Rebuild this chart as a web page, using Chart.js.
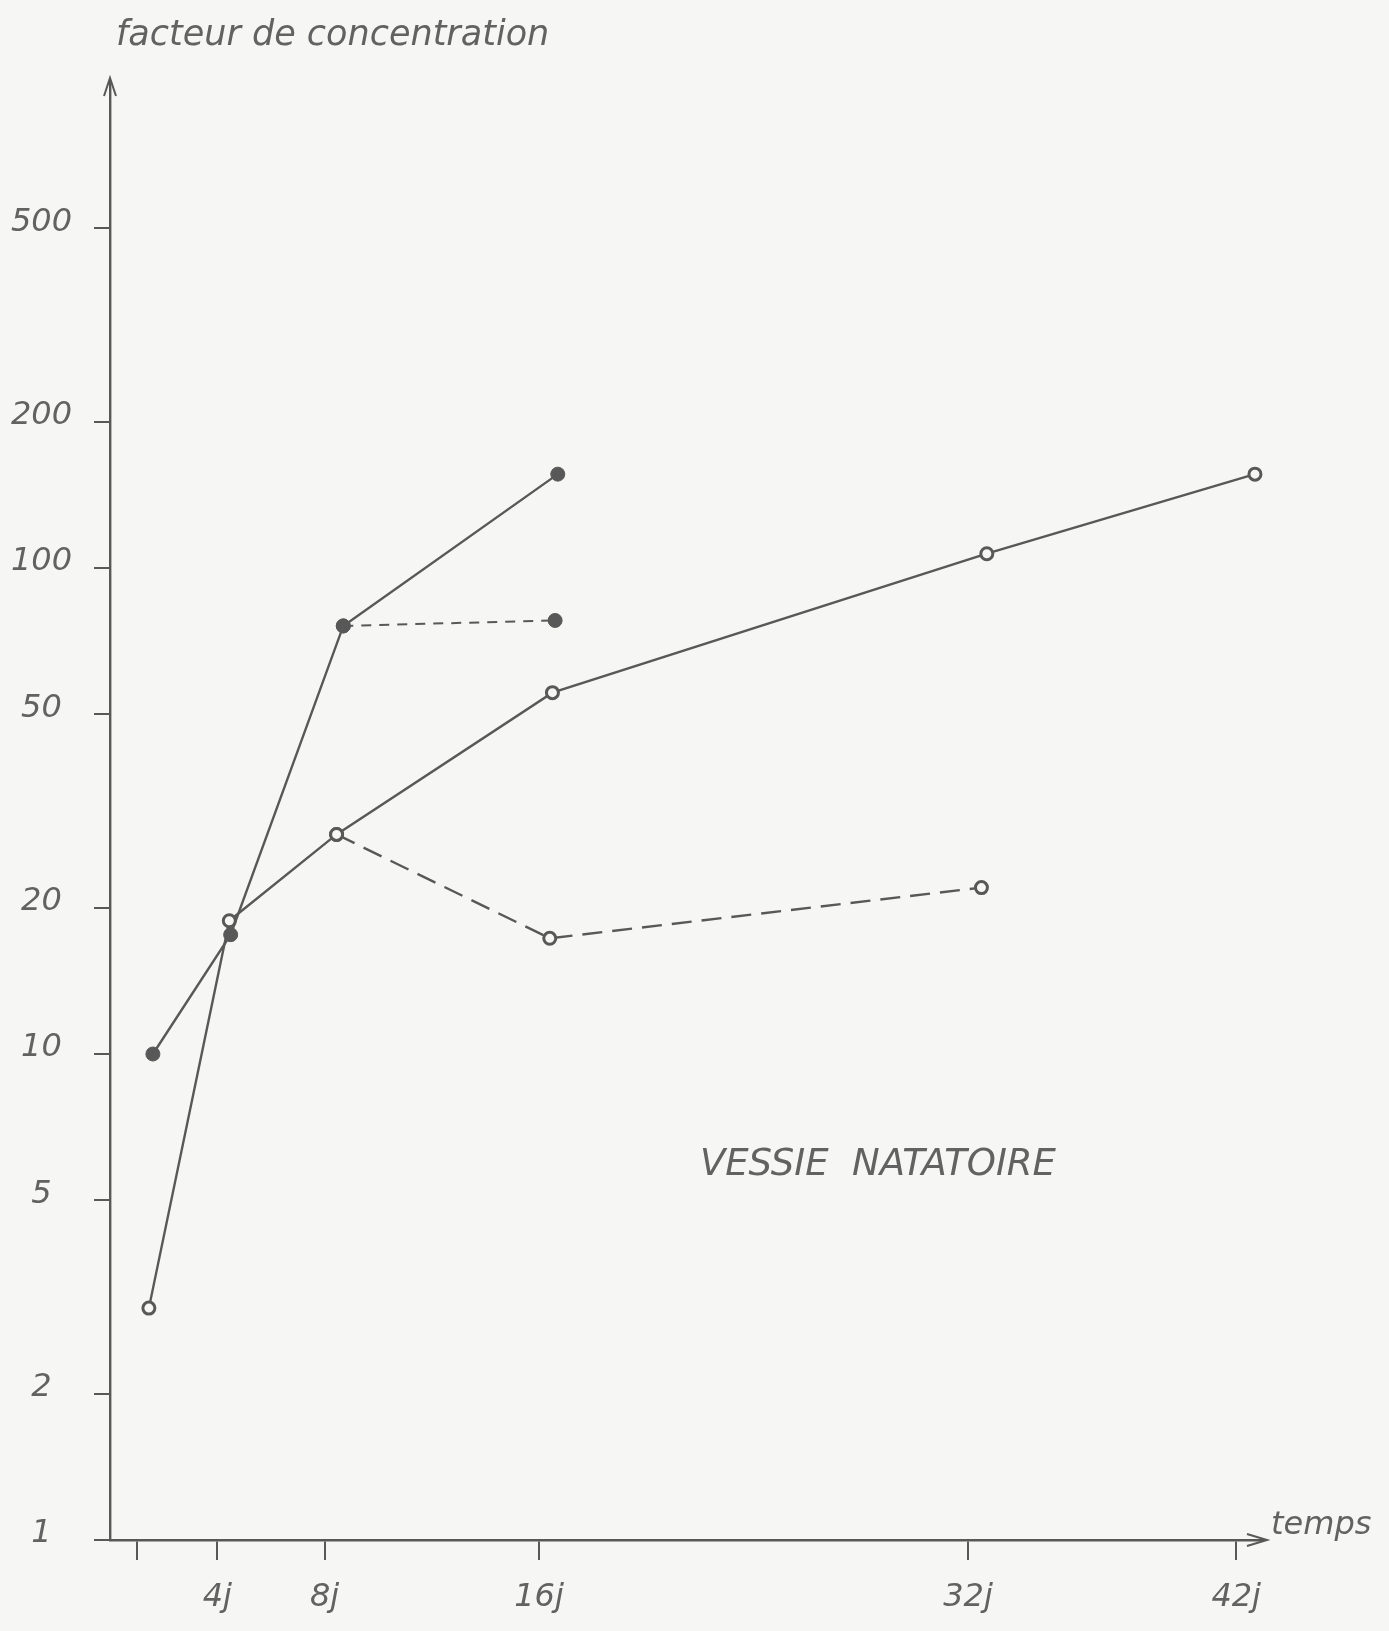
<!DOCTYPE html>
<html>
<head>
<meta charset="utf-8">
<script src="https://cdn.jsdelivr.net/npm/chart.js@4.4.0/dist/chart.umd.min.js"></script>
<style>
  html, body { margin: 0; padding: 0; background: #f6f6f4; }
  #wrap { width: 1389px; height: 1631px; position: relative; }
</style>
</head>
<body>
<div id="wrap"><canvas id="graphique"></canvas></div>
<script>
// valeurs (jours, facteur de concentration)
const pleinJours = [1.6, 4.5, 8.7, 16.7];
const pleinValeurs = [10, 17.6, 76, 156];
const pleinTiretJours = [8.7, 16.6];
const pleinTiretValeurs = [76, 78];

const videJours = [1.45, 4.45, 8.45, 16.5, 32.7, 42.7];
const videValeurs = [3.0, 18.8, 28.3, 55.4, 107, 156];
const videTiretJours = [8.45, 16.4, 32.5];
const videTiretValeurs = [28.3, 17.3, 22.0];

const xTicksJours = [1, 4, 8, 16, 32, 42];
const xTicksLabels = ["", "4j", "8j", "16j", "32j", "42j"];
const yTicksValeurs = [1, 2, 5, 10, 20, 50, 100, 200, 500];

const gris = "#585858";
const grisTexte = "#626262";
const fond = "#f6f6f4";
const police = "'DejaVu Sans', sans-serif";

const toPoints = (xs, ys) => xs.map((x, i) => ({ x: x, y: ys[i] }));

const decor = {
  id: "decor",
  afterDraw(chart) {
    const ctx = chart.ctx;
    const a = chart.chartArea;
    const sx = chart.scales.x;
    const sy = chart.scales.y;
    ctx.save();
    ctx.strokeStyle = gris;
    ctx.lineWidth = 2;
    // fleche axe vertical
    ctx.beginPath();
    ctx.moveTo(a.left - 6, a.top + 14);
    ctx.lineTo(a.left, a.top - 4);
    ctx.lineTo(a.left + 6, a.top + 14);
    ctx.stroke();
    // fleche axe horizontal
    ctx.beginPath();
    ctx.moveTo(a.right - 16, a.bottom - 6);
    ctx.lineTo(a.right + 4, a.bottom);
    ctx.lineTo(a.right - 16, a.bottom + 6);
    ctx.stroke();
    // axe horizontal depasse a gauche
    ctx.beginPath();
    ctx.moveTo(a.left - 14, a.bottom);
    ctx.lineTo(a.left, a.bottom);
    ctx.stroke();

    ctx.fillStyle = grisTexte;
    ctx.font = "italic 35px " + police;
    ctx.textBaseline = "middle";
    ctx.textAlign = "left";
    ctx.fillText("facteur de concentration", a.left + 6, 36);

    ctx.font = "italic 32px " + police;
    ctx.fillText("temps", a.right + 8, a.bottom - 14);

    ctx.font = "italic 37px " + police;
    ctx.fillText("VESSIE  NATATOIRE", sx.getPixelForValue(22.0), sy.getPixelForValue(5.9));
    ctx.restore();
  }
};

const ctx = document.getElementById("graphique").getContext("2d");

new Chart(ctx, {
  type: "line",
  data: {
    datasets: [
      {
        label: "plein",
        data: toPoints(pleinJours, pleinValeurs),
        borderColor: gris,
        borderWidth: 2.4,
        pointRadius: 7,
        pointBackgroundColor: gris,
        pointBorderColor: gris,
        pointBorderWidth: 1
      },
      {
        label: "plein tirets",
        data: toPoints(pleinTiretJours, pleinTiretValeurs),
        borderColor: gris,
        borderWidth: 2,
        borderDash: [10, 8],
        pointRadius: 7,
        pointBackgroundColor: gris,
        pointBorderColor: gris,
        pointBorderWidth: 1
      },
      {
        label: "vide",
        data: toPoints(videJours, videValeurs),
        borderColor: gris,
        borderWidth: 2.4,
        pointRadius: 6,
        pointBackgroundColor: fond,
        pointBorderColor: gris,
        pointBorderWidth: 3
      },
      {
        label: "vide tirets",
        data: toPoints(videTiretJours, videTiretValeurs),
        borderColor: gris,
        borderWidth: 2.4,
        borderDash: [20, 10],
        pointRadius: 6,
        pointBackgroundColor: fond,
        pointBorderColor: gris,
        pointBorderWidth: 3
      }
    ]
  },
  options: {
    responsive: true,
    maintainAspectRatio: false,
    animation: false,
    layout: { padding: { top: 82, right: 126, left: 0, bottom: 0 } },
    plugins: {
      legend: { display: false },
      tooltip: { enabled: false }
    },
    scales: {
      x: {
        type: "linear",
        min: 0,
        max: 43,
        afterBuildTicks: (axis) => { axis.ticks = xTicksJours.map(v => ({ value: v })); },
        afterFit: (axis) => { axis.height = 91; },
        ticks: {
          autoSkip: false,
          maxRotation: 0,
          padding: 18,
          color: grisTexte,
          font: { family: police, size: 32, style: "italic" },
          callback: (value, index) => xTicksLabels[index]
        },
        grid: { drawOnChartArea: false, drawTicks: true, tickLength: 20, color: gris, lineWidth: 2 },
        border: { color: gris, width: 2.4 }
      },
      y: {
        type: "logarithmic",
        min: 1,
        max: 1000,
        afterBuildTicks: (axis) => { axis.ticks = yTicksValeurs.map(v => ({ value: v })); },
        afterFit: (axis) => { axis.width = 110; },
        ticks: {
          autoSkip: false,
          padding: 22,
          crossAlign: "center",
          labelOffset: -6,
          color: grisTexte,
          font: { family: police, size: 32, style: "italic" },
          callback: (value) => String(value)
        },
        grid: { drawOnChartArea: false, drawTicks: true, tickLength: 16, color: gris, lineWidth: 2 },
        border: { color: gris, width: 2.4 }
      }
    }
  },
  plugins: [decor]
});
</script>
</body>
</html>
